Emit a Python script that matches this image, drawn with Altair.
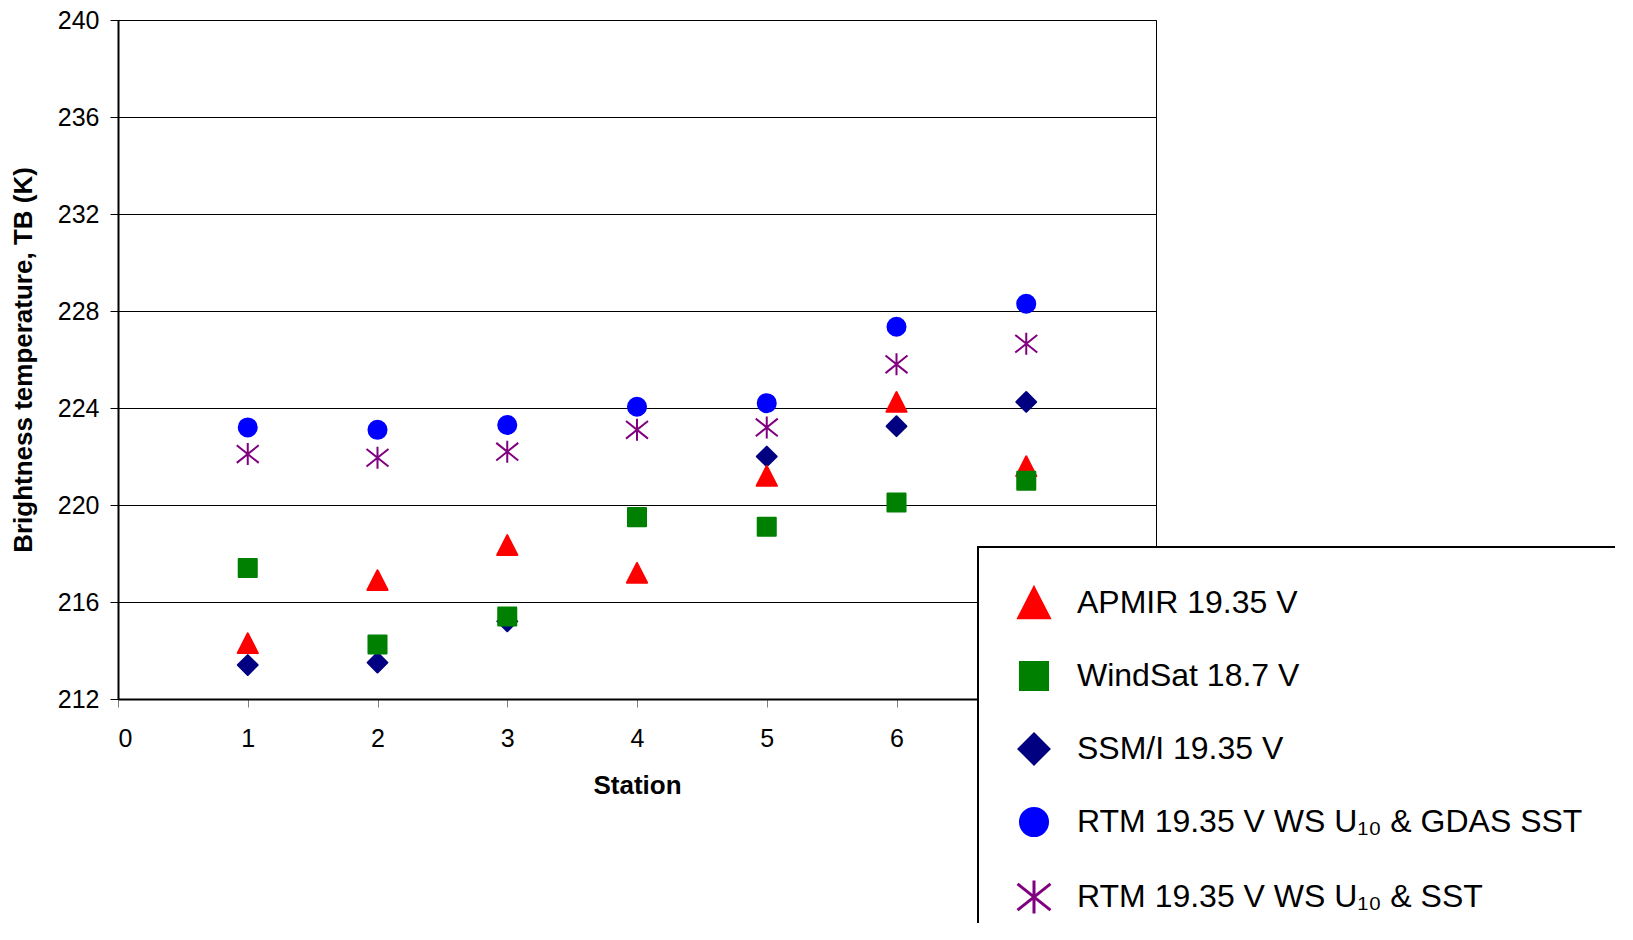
import altair as alt
import pandas as pd

stations = [1, 2, 3, 4, 5, 6, 7]
series_names = [
    "APMIR 19.35 V",
    "WindSat 18.7 V",
    "SSM/I  19.35 V",
    "RTM 19.35 V WS U\u2081\u2080 & GDAS SST",
    "RTM 19.35 V WS U\u2081\u2080 & SST",
]
apmir = [214.3, 216.9, 218.35, 217.2, 221.2, 224.25, 221.6]
windsat = [217.4, 214.25, 215.4, 219.5, 219.1, 220.1, 221.0]
ssmi = [213.4, 213.5, 215.2, None, 222.0, 223.25, 224.25]
rtm_gdas = [223.2, 223.1, 223.3, 224.05, 224.2, 227.35, 228.3]
rtm_sst = [222.1, 221.95, 222.2, 223.1, 223.2, 225.8, 226.65]

colors = ["#FF0000", "#008000", "#000080", "#0000FF", "#800080"]
shapes = [
    "M0,-0.9L0.92,0.9L-0.92,0.9Z",
    "M-0.82,-0.82L0.82,-0.82L0.82,0.82L-0.82,0.82Z",
    "M0,-0.9L0.9,0L0,0.9L-0.9,0Z",
    "M-0.82,0A0.82,0.82 0 1,0 0.82,0A0.82,0.82 0 1,0 -0.82,0Z",
    "M0,-1L0,1M-1,-0.8L1,0.8M-1,0.8L1,-0.8",
]
y_ticks = [212, 216, 220, 224, 228, 232, 236, 240]
x_ticks = [0, 1, 2, 3, 4, 5, 6, 7, 8]

# drawing order: diamonds below triangles below squares
draw_order = {series_names[2]: 0, series_names[0]: 1, series_names[1]: 2,
              series_names[3]: 3, series_names[4]: 4}
rows = []
for name, vals in zip(series_names, [apmir, windsat, ssmi, rtm_gdas, rtm_sst]):
    for s, v in zip(stations, vals):
        if v is not None:
            rows.append({"station": s, "tb": v, "series": name, "draw": draw_order[name]})
df = pd.DataFrame(rows).sort_values("draw")

FONT = "Liberation Sans"
leg = alt.Legend(title=None)

chart = alt.Chart(df).mark_point(
    filled=True, opacity=1, strokeWidth=2, strokeJoin="round", size=484
).encode(
    x=alt.X("station:Q",
            scale=alt.Scale(domain=[0, 8], nice=False, zero=False),
            axis=alt.Axis(values=x_ticks, title="Station", grid=False, format="d",
                          labelExpr="datum.value <= 6 ? datum.label : ''",
                          tickColor="#808080", tickSize=8, domainColor="black",
                          domainWidth=2, labelPadding=19, titlePadding=21)),
    y=alt.Y("tb:Q",
            scale=alt.Scale(domain=[212, 240], nice=False, zero=False),
            axis=alt.Axis(values=y_ticks, title="Brightness temperature,  TB (K)",
                          grid=True, gridColor="black", gridWidth=1, gridOpacity=1,
                          tickColor="black", tickSize=8, domainColor="black",
                          domainWidth=2, labelPadding=11, titlePadding=21)),
    color=alt.Color("series:N", scale=alt.Scale(domain=series_names, range=colors), legend=leg),
    stroke=alt.Stroke("series:N", scale=alt.Scale(domain=series_names, range=colors), legend=leg),
    shape=alt.Shape("series:N", scale=alt.Scale(domain=series_names, range=shapes), legend=leg),
    order=alt.Order("draw:Q"),
).properties(
    width=1038, height=679,
    autosize=alt.AutoSizeParams(type="none"),
    padding={"left": 110, "top": 12, "right": 459, "bottom": 224},
).configure_view(
    stroke="black", strokeWidth=1
).configure_axis(
    labelFont=FONT, labelFontSize=25, labelColor="black",
    titleFont=FONT, titleFontSize=26, titleFontWeight="bold", titleColor="black",
).configure_legend(
    orient="none", legendX=860, legendY=527, padding=38,
    strokeColor="black", strokeWidth=2, fillColor="white",
    symbolSize=1089, symbolStrokeWidth=3, labelFont=FONT, labelFontSize=32,
    labelColor="black", labelOffset=25, rowPadding=32, labelLimit=800,
)

chart.save("out.html", embed_options={"renderer": "svg", "actions": False})
